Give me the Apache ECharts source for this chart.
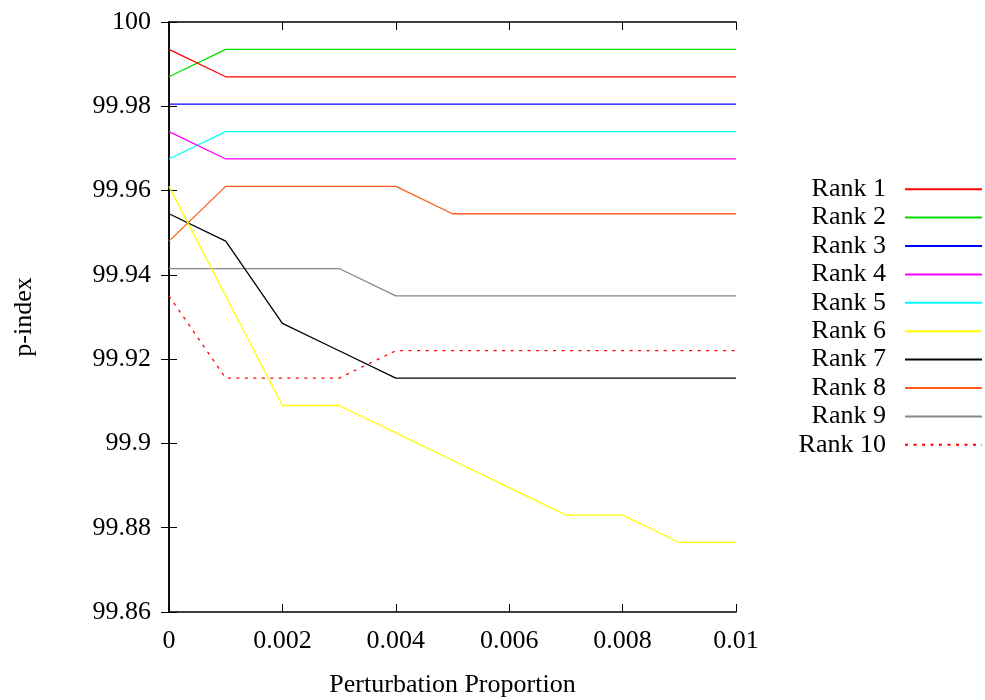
<!DOCTYPE html>
<html>
<head>
<meta charset="utf-8">
<script src="https://cdn.jsdelivr.net/npm/echarts@6/dist/echarts.min.js"></script>
<style>
  html, body { margin: 0; padding: 0; background: #fff; }
  #chart { width: 985px; height: 700px; }
</style>
</head>
<body>
<div id="chart"></div>
<script>
// Perturbation proportions on the x axis
const proportions = [0, 0.001, 0.002, 0.003, 0.004, 0.005, 0.006, 0.007, 0.008, 0.009, 0.01];

// p-index for each rank
const rank1  = [99.9935, 99.987, 99.987, 99.987, 99.987, 99.987, 99.987, 99.987, 99.987, 99.987, 99.987];
const rank2  = [99.987, 99.9935, 99.9935, 99.9935, 99.9935, 99.9935, 99.9935, 99.9935, 99.9935, 99.9935, 99.9935];
const rank3  = [99.9805, 99.9805, 99.9805, 99.9805, 99.9805, 99.9805, 99.9805, 99.9805, 99.9805, 99.9805, 99.9805];
const rank4  = [99.974, 99.9675, 99.9675, 99.9675, 99.9675, 99.9675, 99.9675, 99.9675, 99.9675, 99.9675, 99.9675];
const rank5  = [99.9675, 99.974, 99.974, 99.974, 99.974, 99.974, 99.974, 99.974, 99.974, 99.974, 99.974];
const rank6  = [99.961, 99.935, 99.909, 99.909, 99.9025, 99.896, 99.8895, 99.883, 99.883, 99.8765, 99.8765];
const rank7  = [99.9545, 99.948, 99.9285, 99.922, 99.9155, 99.9155, 99.9155, 99.9155, 99.9155, 99.9155, 99.9155];
const rank8  = [99.948, 99.961, 99.961, 99.961, 99.961, 99.9545, 99.9545, 99.9545, 99.9545, 99.9545, 99.9545];
const rank9  = [99.9415, 99.9415, 99.9415, 99.9415, 99.935, 99.935, 99.935, 99.935, 99.935, 99.935, 99.935];
const rank10 = [99.935, 99.9155, 99.9155, 99.9155, 99.922, 99.922, 99.922, 99.922, 99.922, 99.922, 99.922];

const seriesNames = ['Rank 1', 'Rank 2', 'Rank 3', 'Rank 4', 'Rank 5', 'Rank 6', 'Rank 7', 'Rank 8', 'Rank 9', 'Rank 10'];
const seriesValues = [rank1, rank2, rank3, rank4, rank5, rank6, rank7, rank8, rank9, rank10];
const seriesColors = ['#ff0000', '#00dd00', '#0000ff', '#ff00ff', '#00ffff', '#ffff00', '#000000', '#ff5a1e', '#888888', '#ff0000'];

const FONT = '"Liberation Serif", "DejaVu Serif", serif';

const chart = echarts.init(document.getElementById('chart'), null, { renderer: 'canvas' });

const series = seriesNames.map((name, i) => ({
  name: name,
  type: 'line',
  data: proportions.map((x, j) => [x, seriesValues[i][j]]),
  showSymbol: false,
  symbol: 'none',
  lineStyle: {
    color: seriesColors[i],
    width: 1.3,
    type: i === 9 ? [3, 5.5] : 'solid'
  },
  itemStyle: { color: seriesColors[i] },
  emphasis: { disabled: true },
  z: 10 - i
}));

const tickStyle = { show: true, inside: true, length: 8, lineStyle: { color: '#000', width: 1 } };

chart.setOption({
  animation: false,
  backgroundColor: '#fff',
  grid: { left: 169, top: 22, right: 249, bottom: 88, containLabel: false, outerBoundsMode: 'none' },
  legend: {
    orient: 'vertical',
    right: 2,
    top: 175,
    padding: 0,
    align: 'right',
    itemWidth: 77,
    itemHeight: 14,
    itemGap: 0,
    // key samples show only the line stroke
    itemStyle: { opacity: 0 },
    data: seriesNames,
    textStyle: {
      fontFamily: FONT,
      fontSize: 26,
      color: '#000',
      width: 100,
      height: 28.4,
      lineHeight: 28.4,
      align: 'right',
      padding: [0, 14, 0, 0]
    },
    selectedMode: false
  },
  xAxis: [{
    type: 'value',
    min: 0,
    max: 0.01,
    interval: 0.002,
    name: 'Perturbation Proportion',
    nameLocation: 'middle',
    nameGap: 60,
    nameTextStyle: { fontFamily: FONT, fontSize: 26, color: '#000' },
    axisLine: { show: true, lineStyle: { color: '#000', width: 1.5 } },
    axisTick: tickStyle,
    splitLine: { show: false },
    axisLabel: {
      fontFamily: FONT, fontSize: 26, color: '#000', margin: 16,
      formatter: v => String(parseFloat(v.toFixed(3)))
    }
  }, {
    type: 'value',
    position: 'top',
    min: 0,
    max: 0.01,
    interval: 0.002,
    axisLine: { show: true, lineStyle: { color: '#000', width: 1.5 } },
    axisTick: tickStyle,
    axisLabel: { show: false },
    splitLine: { show: false }
  }],
  yAxis: [{
    type: 'value',
    min: 99.86,
    max: 100,
    interval: 0.02,
    name: 'p-index',
    nameLocation: 'middle',
    nameGap: 132,
    nameRotate: 90,
    nameTextStyle: { fontFamily: FONT, fontSize: 26, color: '#000' },
    axisLine: { show: true, lineStyle: { color: '#000', width: 1.5 } },
    axisTick: tickStyle,
    splitLine: { show: false },
    axisLabel: {
      fontFamily: FONT, fontSize: 26, color: '#000', margin: 18,
      formatter: v => String(parseFloat(v.toFixed(2)))
    }
  }, {
    type: 'value',
    position: 'right',
    min: 99.86,
    max: 100,
    interval: 0.02,
    axisLine: { show: true, lineStyle: { color: '#000', width: 1.5 } },
    axisTick: tickStyle,
    axisLabel: { show: false },
    splitLine: { show: false }
  }],
  series: series
});
</script>
</body>
</html>
